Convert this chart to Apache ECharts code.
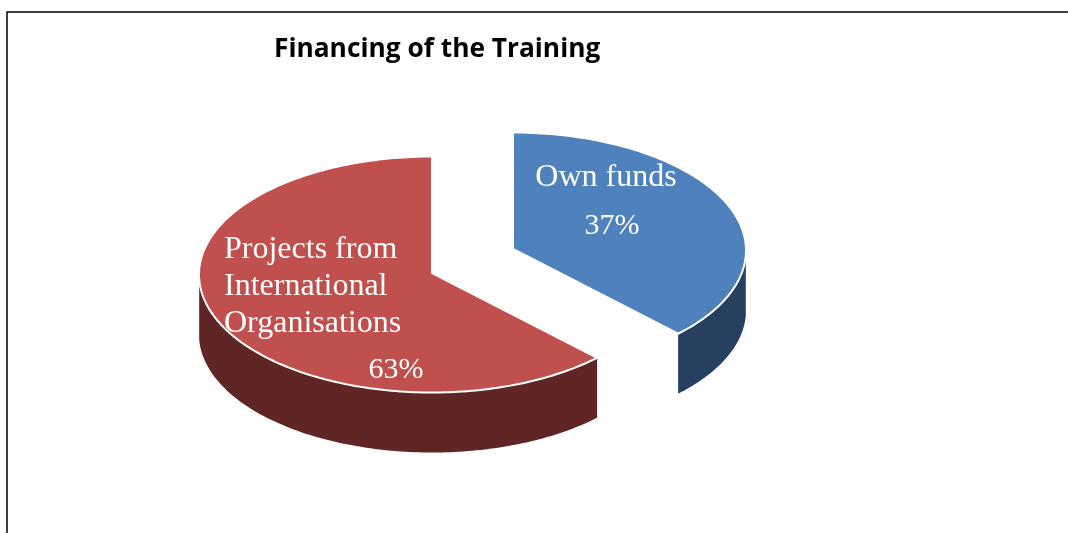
<!DOCTYPE html>
<html>
<head>
<meta charset="utf-8">
<style>html,body{margin:0;padding:0;background:#fff}#main{width:1068px;height:533px}</style>
<script src="https://cdn.jsdelivr.net/npm/echarts@6/dist/echarts.min.js"></script>
</head>
<body>
<div id="main"></div>
<script>
var titleText = 'Financing of the Training';
var sliceNames = ['Own funds', 'Projects from\nInternational\nOrganisations'];
var sliceValues = [37, 63];

// look of each slice: top centre, colours, where its texts go
var sliceLook = [
    {cx: 513, cy: 250.5, top: '#4f81bd', side: '#27405f', nameX: 606, nameY: 178, nameAlign: 'center', pctX: 612, pctY: 226.5},
    {cx: 432, cy: 274.5, top: '#c0504d', side: '#5f2625', nameX: 224, nameY: 287, nameAlign: 'left', pctX: 396, pctY: 370.5}
];
var rx = 233, ry = 118, depth = 60;

// slight perspective: the front of the pie looks a bit bigger than the back
function edgePoint(look, t, dy) {
    var a = t + 0.04 * Math.sin(t);
    return [look.cx + rx * Math.sin(a), look.cy + (dy || 0) - ry * Math.cos(a)];
}

function arcPoints(look, from, to, dy) {
    var pts = [];
    var n = Math.max(2, Math.ceil(Math.abs(to - from) / 0.02));
    for (var i = 0; i <= n; i++) {
        pts.push(edgePoint(look, from + (to - from) * i / n, dy));
    }
    return pts;
}

function renderSlice(params, api) {
    var i = params.dataIndex;
    var look = sliceLook[i];
    var total = sliceValues.reduce(function (a, b) { return a + b; }, 0);
    var before = 0;
    for (var k = 0; k < i; k++) before += sliceValues[k];
    var from = before / total * Math.PI * 2;
    var to = (before + api.value(0)) / total * Math.PI * 2;

    // wall is only seen on the front half of the ellipse
    var wallFrom = Math.max(from, Math.PI / 2);
    var wallTo = Math.min(to, Math.PI * 1.5);
    var wall = arcPoints(look, wallFrom, wallTo, 0).concat(arcPoints(look, wallTo, wallFrom, depth));

    var top = [[look.cx, look.cy - 1.5]].concat(arcPoints(look, from, to, 0));

    return {
        type: 'group',
        children: [
            {type: 'polygon', shape: {points: wall}, style: {fill: look.side}},
            {type: 'polygon', shape: {points: top}, style: {fill: look.top, stroke: '#fff', lineWidth: 2, lineJoin: 'round'}},
            {type: 'text', style: {
                text: sliceNames[i], x: look.nameX, y: look.nameY, align: look.nameAlign, verticalAlign: 'middle',
                fill: '#fff', font: '32px "Liberation Serif"', lineHeight: 37
            }},
            {type: 'text', style: {
                text: Math.round(api.value(0) / total * 100) + '%', x: look.pctX, y: look.pctY, align: 'center', verticalAlign: 'middle',
                fill: '#fff', font: '30px "Liberation Serif"'
            }}
        ]
    };
}

var myChart = echarts.init(document.getElementById('main'));
var option = {
    animation: false,
    backgroundColor: '#fff',
    title: {
        text: titleText,
        left: 269,
        top: 32,
        textStyle: {fontFamily: 'Open Sans', fontWeight: 'bold', fontSize: 26.3, color: '#000'}
    },
    graphic: [
        {type: 'polyline', shape: {points: [[7, 540], [7, 12], [1075, 12]]}, style: {fill: null, stroke: '#000', lineWidth: 1.5}}
    ],
    series: [{
        type: 'custom',
        coordinateSystem: 'none',
        renderItem: renderSlice,
        data: sliceValues.map(function (v, i) { return {name: sliceNames[i], value: [v]}; })
    }]
};
myChart.setOption(option);
</script>
</body>
</html>
